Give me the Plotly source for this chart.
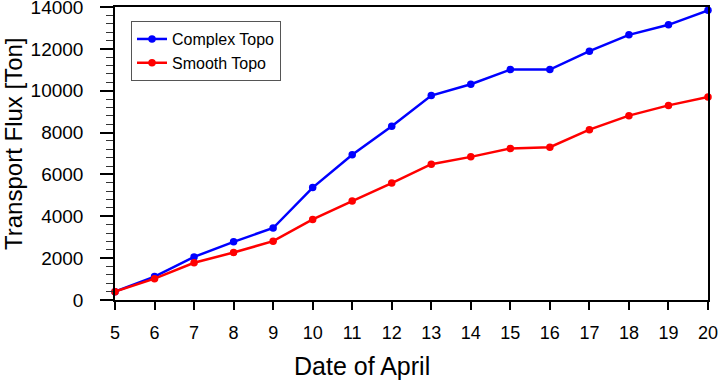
import plotly.graph_objects as go

dates = list(range(5, 21))
complex_topo = [400, 1120, 2060, 2780, 3440, 5370, 6940, 8300, 9770, 10310, 11010, 11010, 11890, 12670, 13150, 13840]
smooth_topo = [400, 1020, 1780, 2270, 2810, 3850, 4730, 5590, 6490, 6840, 7240, 7300, 8140, 8810, 9300, 9700]
x_ticks = list(range(5, 21))
y_ticks = list(range(0, 14001, 2000))

fig = go.Figure()
fig.add_trace(go.Scatter(x=dates, y=complex_topo, mode="lines+markers", name="Complex Topo",
                         line=dict(color="#0000ff", width=2.5), marker=dict(size=7.5, color="#0000ff"),
                         cliponaxis=False))
fig.add_trace(go.Scatter(x=dates, y=smooth_topo, mode="lines+markers", name="Smooth Topo",
                         line=dict(color="#ff0000", width=2.5), marker=dict(size=7.5, color="#ff0000"),
                         cliponaxis=False))

font_family = "Liberation Sans, Arial, sans-serif"
fig.update_layout(
    width=720, height=384,
    margin=dict(l=115, r=12, t=7, b=84, autoexpand=False),
    paper_bgcolor="white", plot_bgcolor="white",
    font=dict(family=font_family, color="black"),
    showlegend=True,
    legend=dict(x=0.027, y=0.952, xanchor="left", yanchor="top",
                bordercolor="#555555", borderwidth=1, bgcolor="white",
                font=dict(size=16, family=font_family), tracegroupgap=0,
                itemwidth=30),
    xaxis=dict(range=[5, 20], tickvals=x_ticks, ticktext=[str(t) for t in x_ticks],
               showgrid=False, zeroline=False, showline=True, linecolor="black", linewidth=1.5,
               mirror=True, ticks="outside", ticklen=8, tickwidth=1.5, tickcolor="black",
               tickfont=dict(size=18), ticklabelstandoff=8, automargin=False),
    yaxis=dict(range=[0, 14001], tickvals=y_ticks, ticktext=[str(t) for t in y_ticks],
               showgrid=False, zeroline=False, showline=True, linecolor="black", linewidth=1.5,
               mirror=True, ticks="outside", ticklen=13, tickwidth=1.5, tickcolor="black",
               tickfont=dict(size=19), ticklabelstandoff=13, automargin=False,
               ticklabeloverflow="allow",
               minor=dict(dtick=400, ticks="outside", ticklen=7, tickwidth=1, tickcolor="#333333", showgrid=False)),
    annotations=[
        dict(text="Date of April", xref="paper", yref="paper", x=(362 - 115) / 593, y=-(366 - 300) / 293,
             xanchor="center", yanchor="middle", showarrow=False, font=dict(size=25)),
        dict(text="Transport Flux [Ton]", xref="paper", yref="paper", x=-(115 - 13) / 593, y=(300 - 144) / 293,
             xanchor="center", yanchor="middle", showarrow=False, textangle=-90, font=dict(size=24)),
    ],
)

fig.write_html("out.html", config={"displayModeBar": False},
               post_script="document.body.style.margin='0';document.body.style.overflow='hidden';")
